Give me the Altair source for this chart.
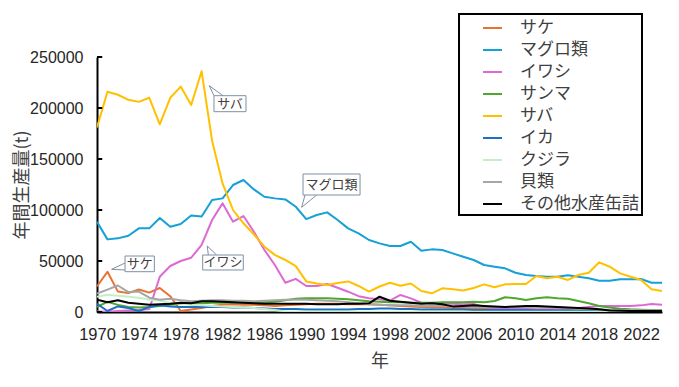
import altair as alt
import pandas as pd

years = list(range(1970, 2025))

series_names = ["サケ", "マグロ類", "イワシ", "サンマ", "サバ", "イカ", "クジラ", "貝類", "その他水産缶詰"]
series_colors = ["#E97132", "#15A0D8", "#DC6AD4", "#4EA72E", "#FFC000", "#1F6FC5", "#C4EFC8", "#A6A6A6", "#000000"]

sake = [25000, 39500, 20000, 18500, 22000, 19000, 23500, 15500, 1000, 2500,
        4000, 6000, 7000, 7500, 7000, 7000, 6500, 6000, 6500, 7000,
        7500, 8000, 8000, 8000, 7500, 7500, 7500, 7000, 6500, 6000,
        5500, 5000, 4500, 4500, 4000, 4000, 3500, 3500, 3000, 3000,
        3000, 2500, 2500, 2500, 2000, 2000, 1500, 1500, 1000, 1000,
        1000, 800, 800, 800, 700]
maguro = [88500, 71200, 72200, 74800, 82000, 82000, 92100, 83600, 86200, 94700,
          93700, 109800, 111400, 124500, 129400, 120200, 113000, 111400, 110400, 103200,
          91100, 95100, 97700, 90200, 82000, 77100, 70600, 67300, 64700, 64700,
          68900, 60100, 61400, 60800, 57500, 54200, 51000, 46100, 44400, 42800,
          38500, 36300, 35300, 34600, 34600, 36000, 34600, 33000, 30700, 30700,
          32000, 32000, 32300, 28700, 28700]
iwashi = [500, 300, 1000, 1500, 2000, 3000, 34600, 45100, 50000, 53200,
          65700, 90200, 106500, 88500, 94100, 78700, 60800, 46100, 28700, 32500,
          25500, 25500, 27400, 23800, 19900, 15500, 13400, 12400, 11100, 16700,
          13400, 9100, 8500, 8400, 8000, 7500, 7800, 5000, 4000, 3500,
          3000, 3000, 2500, 2500, 3000, 3500, 4000, 5000, 5900, 6000,
          6000, 6000, 6500, 7800, 7000]
sanma = [5000, 10000, 7000, 5000, 4500, 5000, 6000, 7000, 8000, 8500,
         8500, 9000, 9000, 9000, 9000, 9000, 9500, 10000, 11500, 13000,
         13500, 13500, 13500, 13000, 12500, 11500, 10500, 10000, 9500, 9500,
         9000, 9000, 9000, 9500, 9500, 9500, 10100, 9500, 10800, 14400,
         13400, 11800, 13400, 14400, 13400, 13000, 10800, 8500, 5900, 4300,
         3300, 2600, 2200, 2000, 2000]
saba = [181000, 216000, 213000, 208000, 206000, 210000, 184000, 210000, 221000, 203000,
        236000, 168000, 126000, 100000, 87000, 76000, 64000, 56000, 51000, 45000,
        30000, 28000, 26500, 28500, 30000, 25500, 20000, 25000, 28700, 25800,
        28000, 20600, 18300, 23200, 22200, 21000, 23500, 27100, 24200, 27100,
        27400, 27400, 35300, 33000, 34600, 31400, 36300, 38500, 48700, 44400,
        37900, 34600, 31400, 22200, 20600]
ika = [8000, 1000, 5500, 4000, 1000, 5000, 6500, 5500, 5000, 5000,
       5000, 5000, 5000, 4500, 4500, 4000, 3500, 3000, 3000, 3000,
       2500, 2500, 2500, 2500, 2500, 3000, 3000, 3500, 3500, 3000,
       3000, 2500, 2500, 2500, 2500, 2500, 2000, 2000, 2000, 2000,
       2000, 2000, 1800, 1800, 1500, 1500, 1500, 1200, 1200, 1000,
       1000, 1000, 1000, 1000, 1000]
kujira = [15000, 17000, 16000, 15000, 14000, 12000, 11000, 9000, 8000, 7000,
          6500, 6000, 5500, 5000, 4500, 4000, 3000, 2000, 500, 200,
          200, 300, 200, 200, 300, 200, 200, 200, 300, 200,
          200, 200, 200, 200, 200, 200, 200, 200, 200, 200,
          200, 200, 200, 200, 200, 200, 200, 200, 200, 200,
          200, 300, 300, 300, 300]
kairui = [18000, 22000, 26000, 19500, 20000, 14000, 12000, 13000, 11500, 10500,
          11000, 11500, 11500, 11000, 11000, 10500, 11000, 11500, 12000, 12000,
          12000, 11500, 11000, 10500, 9500, 8500, 7500, 7000, 6500, 6500,
          6500, 6000, 6000, 6000, 5500, 5500, 5000, 5000, 5000, 5000,
          5000, 5000, 5000, 5000, 4500, 4000, 3500, 3000, 2500, 2000,
          2000, 2000, 1800, 1800, 1800]
sonota = [12000, 9500, 11500, 9000, 8000, 7000, 7500, 8000, 9000, 8500,
          10500, 10500, 10000, 9500, 9000, 8500, 8000, 8000, 8000, 8000,
          8000, 7500, 7500, 7500, 8000, 8000, 8500, 15000, 11000, 10000,
          9000, 8000, 8500, 7500, 5500, 6000, 6500, 6000, 5500, 5000,
          5500, 6000, 6000, 5500, 5000, 4500, 4000, 3500, 2600, 1500,
          1200, 1000, 1000, 1000, 1000]

all_series = [sake, maguro, iwashi, sanma, saba, ika, kujira, kairui, sonota]

x_tick_values = list(range(1970, 2023, 4))
y_tick_values = [0, 50000, 100000, 150000, 200000, 250000]

# callout annotations (data coordinates)
callout_text = ["サバ", "マグロ類", "イワシ", "サケ"]
callout_x1 = [1981.18, 1989.69, 1980.10, 1972.68]
callout_x2 = [1984.24, 1995.14, 1983.98, 1975.48]
callout_y1 = [196370, 114700, 41180, 39510]
callout_y2 = [212060, 135290, 55880, 54900]
pointer_tip_x = [1980.73, 1989.56, 1980.54, 1971.40]
pointer_tip_y = [221860, 102650, 64710, 41860]
pointer_b1_x = [1981.18, 1989.88, 1980.64, 1972.68]
pointer_b1_y = [212060, 114700, 55880, 48040]
pointer_b2_x = [1982.04, 1991.00, 1981.44, 1972.68]
pointer_b2_y = [212060, 114700, 55880, 41180]

rows = []
for name, vals in zip(series_names, all_series):
    for yr, v in zip(years, vals):
        rows.append({"year": yr, "value": v, "series": name})
df = pd.DataFrame(rows)

box_df = pd.DataFrame({
    "text": callout_text,
    "x1": callout_x1, "x2": callout_x2,
    "y1": callout_y1, "y2": callout_y2,
})
box_df["xc"] = (box_df["x1"] + box_df["x2"]) / 2
box_df["yc"] = (box_df["y1"] + box_df["y2"]) / 2

ptr_rows = []
for i, t in enumerate(callout_text):
    ptr_rows.append({"id": t, "o": 0, "year": pointer_b1_x[i], "value": pointer_b1_y[i]})
    ptr_rows.append({"id": t, "o": 1, "year": pointer_tip_x[i], "value": pointer_tip_y[i]})
    ptr_rows.append({"id": t, "o": 2, "year": pointer_b2_x[i], "value": pointer_b2_y[i]})
ptr_df = pd.DataFrame(ptr_rows)

tick_df = pd.DataFrame({"value": y_tick_values, "year": [1970] * len(y_tick_values),
                        "year2": [1970.5] * len(y_tick_values)})

xscale = alt.Scale(domain=[1970, 2024], nice=False, zero=False)
yscale = alt.Scale(domain=[0, 250000], nice=False)

lines = alt.Chart(df).mark_line(strokeWidth=2, strokeJoin="round", clip=True).encode(
    x=alt.X("year:Q", scale=xscale,
            axis=alt.Axis(values=x_tick_values, format="d", title="年", ticks=False,
                          labelOverlap=False, labelFlush=False, grid=False, labelPadding=14,
                          labelFont="Liberation Sans", labelFontSize=16.5,
                          labelColor="#262626",
                          titleFont="Noto Sans CJK JP", titleFontSize=18,
                          titleFontWeight="normal", titleColor="#404040",
                          titlePadding=10,
                          domainColor="#000000", domainWidth=2)),
    y=alt.Y("value:Q", scale=yscale,
            axis=alt.Axis(values=y_tick_values, format="d", title="年間生産量(t)",
                          ticks=False, grid=False, labelPadding=14,
                          labelFont="Liberation Sans", labelFontSize=16,
                          labelColor="#262626",
                          titleFont="Noto Sans CJK JP", titleFontSize=18,
                          titleFontWeight="normal", titleColor="#404040",
                          titleX=-75, titleY=127.5, titleBaseline="middle",
                          titleAlign="center",
                          domainColor="#000000", domainWidth=2)),
    color=alt.Color("series:N",
                    scale=alt.Scale(domain=series_names, range=series_colors),
                    sort=series_names,
                    legend=alt.Legend(orient="none", legendX=362, legendY=-43, title=None,
                                      symbolType="M-0.95,0L0.95,0", symbolSize=400,
                                      symbolStrokeWidth=2, symbolOffset=19.5,
                                      labelOffset=16.5, labelFontSize=17,
                                      labelFont="Noto Sans CJK JP", labelColor="#404040",
                                      padding=3, rowPadding=3,
                                      strokeColor="#000000")),
)

yticks = alt.Chart(tick_df).mark_rule(color="#000000", strokeWidth=2).encode(
    x=alt.X("year:Q", scale=xscale),
    x2="year2:Q",
    y=alt.Y("value:Q", scale=yscale),
)

pointers = alt.Chart(ptr_df).mark_line(color="#7F8FA3", strokeWidth=1).encode(
    x=alt.X("year:Q", scale=xscale),
    y=alt.Y("value:Q", scale=yscale),
    detail="id:N",
    order="o:Q",
)

boxes = alt.Chart(box_df).mark_rect(fill="#FFFFFF", stroke="#7F8FA3", strokeWidth=1).encode(
    x=alt.X("x1:Q", scale=xscale),
    x2="x2:Q",
    y=alt.Y("y1:Q", scale=yscale),
    y2="y2:Q",
)

box_text = alt.Chart(box_df).mark_text(font="Noto Sans CJK JP", fontSize=13,
                                       color="#404040", align="center",
                                       baseline="middle").encode(
    x=alt.X("xc:Q", scale=xscale),
    y=alt.Y("yc:Q", scale=yscale),
    text="text:N",
)

chart = alt.layer(lines, yticks, pointers, boxes, box_text).properties(
    width=565, height=255,
    autosize=alt.AutoSizeParams(type="none"),
    padding={"left": 89, "top": 49, "right": 8, "bottom": 60},
).configure_view(stroke=None).configure_legend(strokeWidth=2)

chart.save("out.html", embed_options={"renderer": "svg", "actions": False})
